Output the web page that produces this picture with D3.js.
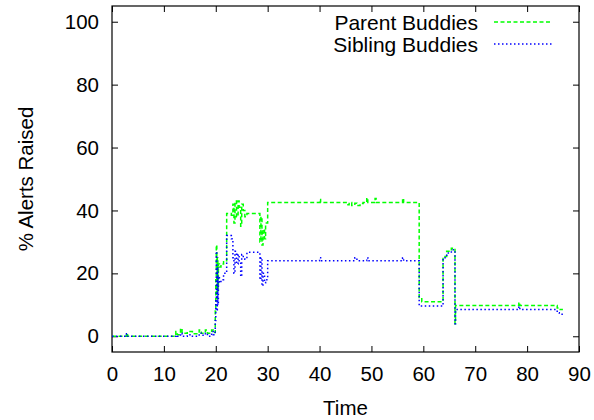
<!DOCTYPE html>
<html>
<head>
<meta charset="utf-8">
<script src="https://cdn.jsdelivr.net/npm/d3@7"></script>
<style>
  html, body { margin: 0; padding: 0; background: #fff; }
  svg { display: block; }
  text { font-family: "Liberation Sans", Arial, Helvetica, sans-serif; fill: #000; }
</style>
</head>
<body>
<svg id="chart" width="594" height="420"></svg>
<script>
// Sample times and the alert percentage of each buddy group at those times
const times = [
  0, 2.8, 3.0, 12.3, 12.6, 13.2, 13.5, 14.5, 15.5, 16.8, 17.2, 18.0, 18.4, 19.2, 19.5,
  19.9, 20.0, 20.1, 20.2, 20.3, 20.4, 20.5, 20.7, 21.0, 21.5, 22.1, 23.0, 23.3, 23.5,
  23.7, 24.0, 24.3, 24.5, 24.8, 25.0, 25.3, 25.6, 26.0, 28.5, 28.7, 28.9, 29.1, 29.4,
  29.6, 30.0, 40.0, 40.2, 45.3, 45.7, 46.2, 46.8, 47.2, 47.8, 48.4, 49.1, 49.3, 50.7,
  50.9, 56.0, 56.2, 59.2, 59.7, 63.8, 64.5, 65.4, 66.1, 66.2, 78.4, 78.6, 85.8, 86.2, 86.9
];
const parentBuddies = [
  0, 1, 0, 1.5, 0.5, 2.5, 1, 1.5, 0.8, 2, 1, 2, 1, 2, 1.2,
  8, 18, 29, 12, 25, 15, 23, 22, 23, 24, 39, 38.5, 42, 36,
  43, 38, 43, 41, 35, 42, 40, 38, 39, 30, 38, 29, 34, 31,
  36, 42.5, 43.5, 42.5, 41.8, 42.5, 41.6, 42.3, 41.6, 42.2, 42.5, 44, 42.5, 43.8,
  42.5, 43.8, 42.5, 12.3, 11, 25.4, 27, 28, 4, 9.8, 10.8, 9.8, 9, 8.5, 8.5
];
const siblingBuddies = [
  0, 0.8, 0, 0.3, 0, 1, 0, 0.5, 0, 1, 0.3, 1, 0, 1.5, 0.5,
  5, 12, 27, 8, 22, 10, 19, 17, 18, 20, 32, 31, 25, 20,
  27, 23, 26, 24, 19, 26, 25, 24.5, 26.7, 18, 25, 16, 20, 17,
  18, 24, 25, 24, 24, 24, 24, 25, 24, 24, 24, 25, 24, 24,
  24, 25, 24, 9.6, 9.6, 25, 26.5, 27.5, 4, 8.5, 9.5, 8.5, 7.5, 7, 7
];
const xTicks = [0, 10, 20, 30, 40, 50, 60, 70, 80, 90];
const yTicks = [0, 20, 40, 60, 80, 100];
const seriesNames = ["Parent Buddies", "Sibling Buddies"];

const svg = d3.select("#chart");
const plot = { left: 112, right: 579, top: 6, bottom: 352 };

const x = d3.scaleLinear().domain([0, 90]).range([plot.left, plot.right]);
const y = d3.scaleLinear().domain([-5, 105]).range([plot.bottom, plot.top]);

svg.append("clipPath").attr("id", "plot-clip")
  .append("rect")
  .attr("x", plot.left).attr("y", plot.top)
  .attr("width", plot.right - plot.left).attr("height", plot.bottom - plot.top);

// Axes with inward ticks, mirrored on the top and right edges
const tickLen = 6;
const axisFont = "20.5px";

const bottomAxis = svg.append("g")
  .attr("transform", `translate(0,${plot.bottom})`)
  .call(d3.axisBottom(x).tickValues(xTicks).tickSize(-tickLen).tickPadding(14).tickFormat(d3.format("d")));
const topAxis = svg.append("g")
  .attr("transform", `translate(0,${plot.top})`)
  .call(d3.axisTop(x).tickValues(xTicks).tickSize(-tickLen).tickFormat(""));
const leftAxis = svg.append("g")
  .attr("transform", `translate(${plot.left},0)`)
  .call(d3.axisLeft(y).tickValues(yTicks).tickSize(-tickLen).tickPadding(13).tickFormat(d3.format("d")));
const rightAxis = svg.append("g")
  .attr("transform", `translate(${plot.right},0)`)
  .call(d3.axisRight(y).tickValues(yTicks).tickSize(-tickLen).tickFormat(""));

[bottomAxis, topAxis, leftAxis, rightAxis].forEach(g => {
  g.select(".domain").remove();
  g.selectAll(".tick line").attr("stroke", "#000").attr("stroke-width", 1);
  g.selectAll(".tick text").style("font-size", axisFont)
    .style("font-family", '"Liberation Sans", Arial, sans-serif');
});

// Plot frame
svg.append("rect")
  .attr("x", plot.left).attr("y", plot.top)
  .attr("width", plot.right - plot.left).attr("height", plot.bottom - plot.top)
  .attr("fill", "none").attr("stroke", "#000").attr("stroke-width", 1.2);

// Axis titles
svg.append("text")
  .attr("x", (plot.left + plot.right) / 2).attr("y", 415)
  .attr("text-anchor", "middle").style("font-size", axisFont)
  .text("Time");
svg.append("text")
  .attr("transform", `translate(33,${(plot.top + plot.bottom) / 2}) rotate(-90)`)
  .attr("text-anchor", "middle").style("font-size", axisFont)
  .text("% Alerts Raised");

// Series lines
const series = [
  { name: seriesNames[0], values: parentBuddies, color: "#00ff00", dash: "4,2.5" },
  { name: seriesNames[1], values: siblingBuddies, color: "#0000ff", dash: "1.5,2.5" }
];

const line = d3.line()
  .x(d => x(d[0]))
  .y(d => y(d[1]))
  .curve(d3.curveStepAfter);

const lines = svg.append("g").attr("clip-path", "url(#plot-clip)");
series.forEach(s => {
  lines.append("path")
    .datum(times.map((t, i) => [t, s.values[i]]))
    .attr("d", line)
    .attr("fill", "none")
    .attr("stroke", s.color)
    .attr("stroke-width", 1.5)
    .attr("stroke-dasharray", s.dash);
});

// Legend
const legend = svg.append("g");
series.forEach((s, i) => {
  const ly = 22 + i * 22;
  legend.append("text")
    .attr("x", 478).attr("y", ly + 8)
    .attr("text-anchor", "end").style("font-size", "21px")
    .text(s.name);
  legend.append("line")
    .attr("x1", 494).attr("x2", 552)
    .attr("y1", ly).attr("y2", ly)
    .attr("stroke", s.color).attr("stroke-width", 1.5)
    .attr("stroke-dasharray", s.dash);
});
</script>
</body>
</html>
